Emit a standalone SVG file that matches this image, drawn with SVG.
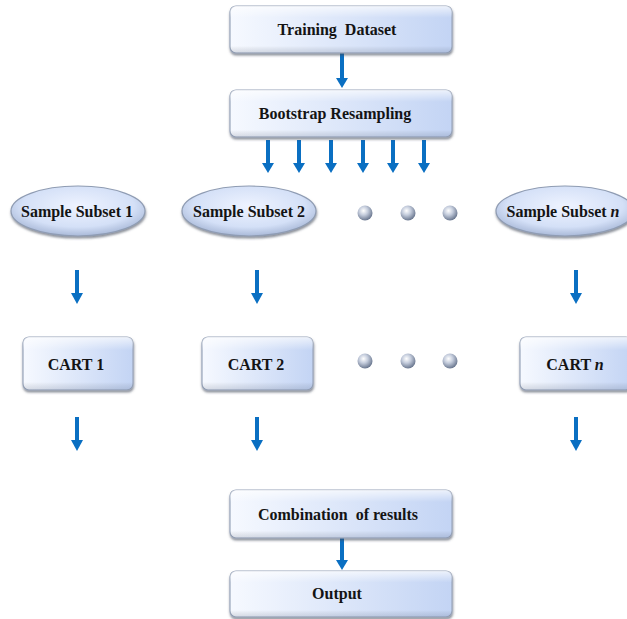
<svg xmlns="http://www.w3.org/2000/svg" width="627" height="619" viewBox="0 0 627 619">
<defs>
<linearGradient id="boxg" x1="0" y1="0" x2="1" y2="0">
<stop offset="0" stop-color="#f6f9ff"/>
<stop offset="1" stop-color="#c3d4f4"/>
</linearGradient>
<linearGradient id="boxv" x1="0" y1="0" x2="0" y2="1">
<stop offset="0" stop-color="#ffffff" stop-opacity="0.7"/>
<stop offset="0.25" stop-color="#ffffff" stop-opacity="0"/>
<stop offset="0.85" stop-color="#000000" stop-opacity="0"/>
<stop offset="1" stop-color="#203050" stop-opacity="0.15"/>
</linearGradient>
<radialGradient id="ellg" cx="0.5" cy="0.4" r="0.6">
<stop offset="0" stop-color="#eef3ff"/>
<stop offset="0.7" stop-color="#d4e0f7"/>
<stop offset="1" stop-color="#a9b9d8"/>
</radialGradient>
<radialGradient id="ball" cx="0.4" cy="0.35" r="0.65">
<stop offset="0" stop-color="#ffffff"/>
<stop offset="0.45" stop-color="#c4ccdc"/>
<stop offset="1" stop-color="#6b7890"/>
</radialGradient>
<filter id="sh" x="-10%" y="-20%" width="120%" height="150%">
<feDropShadow dx="0.5" dy="2" stdDeviation="1.2" flood-color="#404858" flood-opacity="0.6"/>
</filter>
</defs>
<style>
.box{fill:url(#boxg);stroke:#9aa6bb;stroke-width:1.2;filter:url(#sh)}
.bev{fill:url(#boxv);stroke:none}
.ell{fill:url(#ellg);stroke:#8f9cb3;stroke-width:1.2;filter:url(#sh)}
.t{font-family:"Liberation Serif","Times New Roman",serif;font-weight:bold;font-size:16px;fill:#141414;text-anchor:middle;white-space:pre}
.ar{stroke:#0a6fc2;stroke-width:4;fill:none}
.hd{fill:#0a6fc2}
.ball{fill:url(#ball)}
</style>

<g id="connectors">
<line class="ar" x1="342" y1="53" x2="342" y2="79"/><path class="hd" d="M336,78 L348,78 L342,88 Z"/>
<line class="ar" x1="268" y1="140" x2="268" y2="164"/><path class="hd" d="M262,163 L274,163 L268,173 Z"/>
<line class="ar" x1="299" y1="140" x2="299" y2="164"/><path class="hd" d="M293,163 L305,163 L299,173 Z"/>
<line class="ar" x1="331" y1="140" x2="331" y2="164"/><path class="hd" d="M325,163 L337,163 L331,173 Z"/>
<line class="ar" x1="363" y1="140" x2="363" y2="164"/><path class="hd" d="M357,163 L369,163 L363,173 Z"/>
<line class="ar" x1="393" y1="140" x2="393" y2="164"/><path class="hd" d="M387,163 L399,163 L393,173 Z"/>
<line class="ar" x1="424" y1="140" x2="424" y2="164"/><path class="hd" d="M418,163 L430,163 L424,173 Z"/>
<line class="ar" x1="77" y1="270" x2="77" y2="294"/><path class="hd" d="M71,293 L83,293 L77,304 Z"/>
<line class="ar" x1="257" y1="270" x2="257" y2="294"/><path class="hd" d="M251,293 L263,293 L257,304 Z"/>
<line class="ar" x1="576" y1="270" x2="576" y2="294"/><path class="hd" d="M570,293 L582,293 L576,304 Z"/>
<line class="ar" x1="77" y1="417" x2="77" y2="441"/><path class="hd" d="M71,440 L83,440 L77,451 Z"/>
<line class="ar" x1="257" y1="417" x2="257" y2="441"/><path class="hd" d="M251,440 L263,440 L257,451 Z"/>
<line class="ar" x1="576" y1="417" x2="576" y2="441"/><path class="hd" d="M570,440 L582,440 L576,451 Z"/>
<line class="ar" x1="342" y1="538" x2="342" y2="561"/><path class="hd" d="M336,560 L348,560 L342,570 Z"/>
</g>

<g id="training">
<rect class="box" x="230" y="6" width="222" height="47" rx="6"/>
<rect class="bev" x="230" y="6" width="222" height="47" rx="6"/>
<text class="t" x="337" y="35">Training  Dataset</text>
</g>
<g id="bootstrap">
<rect class="box" x="230" y="90" width="222" height="47" rx="6"/>
<rect class="bev" x="230" y="90" width="222" height="47" rx="6"/>
<text class="t" x="335" y="119">Bootstrap Resampling</text>
</g>

<g id="subset1">
<ellipse class="ell" cx="78" cy="211" rx="67" ry="25"/>
<text class="t" x="77" y="217">Sample Subset 1</text>
</g>
<g id="subset2">
<ellipse class="ell" cx="249" cy="211" rx="67" ry="25"/>
<text class="t" x="249" y="217">Sample Subset 2</text>
</g>
<g id="dots1">
<circle class="ball" cx="365" cy="213" r="7.5"/>
<circle class="ball" cx="408" cy="213" r="7.5"/>
<circle class="ball" cx="450" cy="213" r="7.5"/>
</g>
<g id="subsetn">
<ellipse class="ell" cx="565" cy="211" rx="69" ry="25"/>
<text class="t" x="563" y="217">Sample Subset <tspan font-style="italic">n</tspan></text>
</g>

<g id="cart1">
<rect class="box" x="23" y="337" width="110" height="53" rx="6"/>
<rect class="bev" x="23" y="337" width="110" height="53" rx="6"/>
<text class="t" x="76" y="370">CART 1</text>
</g>
<g id="cart2">
<rect class="box" x="202" y="337" width="111" height="53" rx="6"/>
<rect class="bev" x="202" y="337" width="111" height="53" rx="6"/>
<text class="t" x="256" y="370">CART 2</text>
</g>
<g id="dots2">
<circle class="ball" cx="365" cy="361" r="7.5"/>
<circle class="ball" cx="408" cy="361" r="7.5"/>
<circle class="ball" cx="450" cy="361" r="7.5"/>
</g>
<g id="cartn">
<rect class="box" x="520" y="337" width="112" height="53" rx="6"/>
<rect class="bev" x="520" y="337" width="112" height="53" rx="6"/>
<text class="t" x="575" y="370">CART <tspan font-style="italic">n</tspan></text>
</g>

<g id="combination">
<rect class="box" x="230" y="490" width="222" height="48" rx="6"/>
<rect class="bev" x="230" y="490" width="222" height="48" rx="6"/>
<text class="t" x="338" y="520">Combination  of results</text>
</g>
<g id="output">
<rect class="box" x="230" y="571" width="222" height="46" rx="6"/>
<rect class="bev" x="230" y="571" width="222" height="46" rx="6"/>
<text class="t" x="337" y="599">Output</text>
</g>
</svg>
